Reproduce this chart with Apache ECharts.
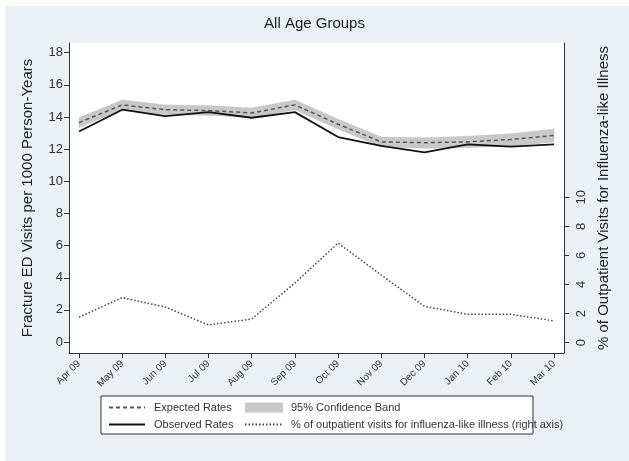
<!DOCTYPE html>
<html>
<head>
<meta charset="utf-8">
<script src="https://cdn.jsdelivr.net/npm/echarts@6/dist/echarts.min.js"></script>
<style>html,body{margin:0;padding:0;background:#fff}#c{width:629px;height:461px}</style>
</head>
<body>
<div id="c"></div>
<script>
const months = ['Apr 09','May 09','Jun 09','Jul 09','Aug 09','Sep 09','Oct 09','Nov 09','Dec 09','Jan 10','Feb 10','Mar 10'];
const observed = [13.1, 14.45, 14.05, 14.3, 13.95, 14.3, 12.75, 12.2, 11.8, 12.3, 12.15, 12.3];
const expected = [13.65, 14.75, 14.45, 14.4, 14.25, 14.75, 13.55, 12.45, 12.4, 12.45, 12.6, 12.85];
const bandLower = [13.35, 14.45, 14.15, 14.1, 13.95, 14.45, 13.25, 12.15, 12.05, 12.1, 12.2, 12.45];
const bandUpper = [13.95, 15.05, 14.75, 14.7, 14.55, 15.05, 13.85, 12.75, 12.7, 12.8, 12.95, 13.25];
const ili = [1.75, 3.1, 2.45, 1.22, 1.63, 4.1, 6.85, 4.65, 2.5, 1.95, 1.95, 1.5];
const leftTicks = [0, 2, 4, 6, 8, 10, 12, 14, 16, 18];
const rightTicks = [0, 2, 4, 6, 8, 10];
const xTicks = months.map((m, i) => i);

const FONT = 'Liberation Sans, Arial, sans-serif';
const chart = echarts.init(document.getElementById('c'), null, {renderer: 'canvas'});

const pairs = arr => arr.map((v, i) => [i, v]);
const hidden = {opacity: 0, color: 'transparent', borderWidth: 0};

chart.setOption({
  animation: false,
  backgroundColor: '#eaf0f3',
  textStyle: {fontFamily: FONT},
  title: {
    text: 'All Age Groups', left: 'center', top: 11,
    textStyle: {fontFamily: FONT, fontSize: 15, fontWeight: 'normal', color: '#222'}
  },
  grid: {left: 69, right: 65, top: 43, bottom: 108, show: true, backgroundColor: '#fff', borderWidth: 0},
  xAxis: {
    type: 'value', min: -0.2316, max: 11.2316,
    axisLine: {show: true, onZero: false, lineStyle: {color: '#333', width: 1}},
    axisTick: {show: true, customValues: xTicks, length: 5, lineStyle: {color: '#333'}},
    axisLabel: {customValues: xTicks, rotate: 45, fontSize: 10, color: '#333', margin: 9, fontFamily: FONT,
      formatter: v => months[Math.round(v)]},
    splitLine: {show: false}
  },
  yAxis: [
    {
      type: 'value', position: 'left', min: -0.68, max: 18.6,
      name: 'Fracture ED Visits per 1000 Person-Years', nameLocation: 'middle', nameGap: 34, nameRotate: 90,
      nameTextStyle: {fontSize: 15, color: '#222', fontFamily: FONT},
      axisLine: {show: true, onZero: false, lineStyle: {color: '#333', width: 1}},
      axisTick: {show: true, customValues: leftTicks, length: 5, lineStyle: {color: '#333'}},
      axisLabel: {customValues: leftTicks, fontSize: 13, color: '#333', margin: 6, fontFamily: FONT},
      splitLine: {show: false}
    },
    {
      type: 'value', position: 'right', min: -0.71, max: 20.6,
      name: '% of Outpatient Visits for Influenza-like Illness', nameLocation: 'middle', nameGap: 28, nameRotate: 90,
      nameTextStyle: {fontSize: 15, color: '#222', fontFamily: FONT},
      axisLine: {show: true, onZero: false, lineStyle: {color: '#333', width: 1}},
      axisTick: {show: true, customValues: rightTicks, length: 5, lineStyle: {color: '#333'}},
      axisLabel: {customValues: rightTicks, rotate: 90, fontSize: 13, color: '#333', margin: 11, fontFamily: FONT},
      splitLine: {show: false}
    }
  ],
  legend: [
    {
      orient: 'vertical', left: 108, top: 402, padding: 0, itemWidth: 36, itemHeight: 10, itemGap: 6,
      itemStyle: hidden,
      textStyle: {fontSize: 11, color: '#333', fontFamily: FONT, padding: [0, 0, 0, 4]},
      data: ['Expected Rates', 'Observed Rates'], selectedMode: false
    },
    {
      orient: 'vertical', left: 244, top: 402, padding: 0, itemWidth: 38, itemHeight: 10, itemGap: 6,
      textStyle: {fontSize: 11, color: '#333', fontFamily: FONT, padding: [0, 0, 0, 3]},
      data: [
        {name: '95% Confidence Band', icon: 'rect', itemStyle: {color: '#c8c8c8'}},
        {name: '% of outpatient visits for influenza-like illness (right axis)', itemStyle: hidden}
      ], selectedMode: false
    }
  ],
  graphic: [
    {type: 'rect', shape: {x: 0, y: 0, width: 629, height: 6}, style: {fill: '#fff'}, silent: true},
    {type: 'rect', shape: {x: 0, y: 0, width: 5, height: 461}, style: {fill: '#fff'}, silent: true},
    {type: 'rect', shape: {x: 101, y: 396, width: 432, height: 38}, style: {fill: '#fff', stroke: '#333', lineWidth: 1}, silent: true}
  ],
  series: [
    {
      name: '95% Confidence Band', type: 'custom', yAxisIndex: 0, z: 1,
      itemStyle: {color: '#c8c8c8'},
      data: pairs(expected),
      renderItem: (params, api) => {
        if (params.dataIndex !== 0) return null;
        const pts = [];
        for (let i = 0; i < bandUpper.length; i++) pts.push(api.coord([i, bandUpper[i]]));
        for (let i = bandLower.length - 1; i >= 0; i--) pts.push(api.coord([i, bandLower[i]]));
        return {type: 'polygon', shape: {points: pts}, style: {fill: '#c8c8c8', stroke: '#bdbdbd', lineWidth: 0.5}};
      }
    },
    {
      name: 'Expected Rates', type: 'line', yAxisIndex: 0, z: 3, symbol: 'none', showSymbol: false,
      data: pairs(expected), color: '#555',
      lineStyle: {color: '#555', width: 1.5, type: [4, 3]}
    },
    {
      name: 'Observed Rates', type: 'line', yAxisIndex: 0, z: 4, symbol: 'none', showSymbol: false,
      data: pairs(observed), color: '#111',
      lineStyle: {color: '#111', width: 1.8}
    },
    {
      name: '% of outpatient visits for influenza-like illness (right axis)', type: 'line', yAxisIndex: 1, z: 3,
      symbol: 'none', showSymbol: false, data: pairs(ili), color: '#444',
      lineStyle: {color: '#444', width: 1.5, type: [1.5, 2]}
    }
  ]
});
</script>
</body>
</html>
